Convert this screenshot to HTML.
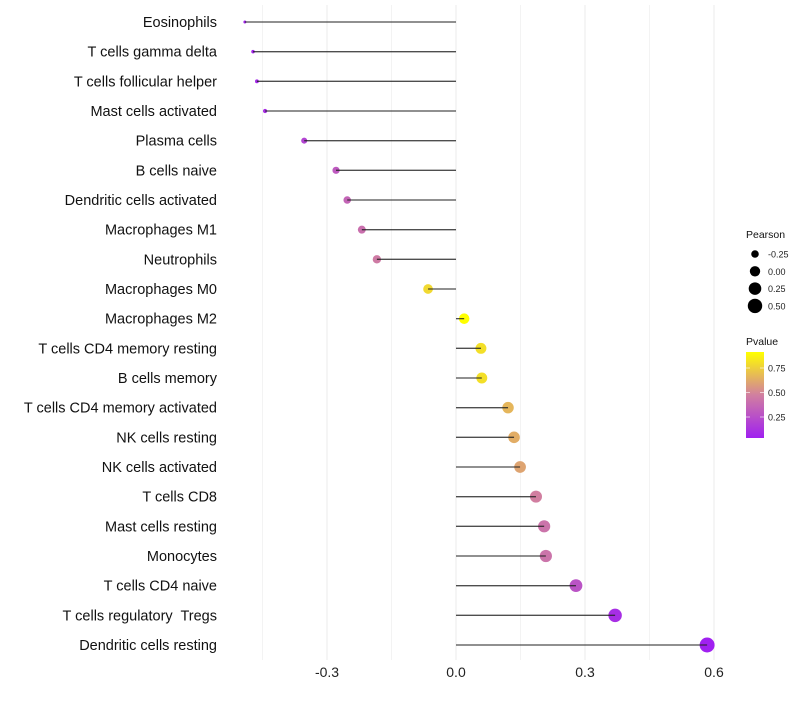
<!DOCTYPE html>
<html><head><meta charset="utf-8"><style>
body{margin:0;background:#fff;font-family:"Liberation Sans",sans-serif}
</style></head><body>
<svg id="c" width="800" height="700" xmlns="http://www.w3.org/2000/svg" font-family="Liberation Sans, sans-serif"></svg>
<script>
const categories=["Eosinophils","T cells gamma delta","T cells follicular helper","Mast cells activated","Plasma cells","B cells naive","Dendritic cells activated","Macrophages M1","Neutrophils","Macrophages M0","Macrophages M2","T cells CD4 memory resting","B cells memory","T cells CD4 memory activated","NK cells resting","NK cells activated","T cells CD8","Mast cells resting","Monocytes","T cells CD4 naive","T cells regulatory  Tregs","Dendritic cells resting"];
const pearson=[-0.491,-0.472,-0.463,-0.444,-0.353,-0.279,-0.253,-0.219,-0.184,-0.065,0.019,0.058,0.060,0.121,0.135,0.149,0.186,0.205,0.209,0.279,0.370,0.584];
const pvalue=[0.05,0.06,0.07,0.1,0.2,0.3,0.35,0.4,0.45,0.78,0.91,0.8,0.8,0.66,0.63,0.6,0.47,0.42,0.42,0.27,0.1,0.035];
const xTicks=[-0.3,0,0.3,0.6];
const xTickLabels=["-0.3","0.0","0.3","0.6"];
const sizeLegend=[-0.25,0,0.25,0.5];
const sizeLegendLabels=["-0.25","0.00","0.25","0.50"];
const pTicks=[0.25,0.5,0.75];
const pTickLabels=["0.25","0.50","0.75"];

const svg=document.getElementById('c');
const NS="http://www.w3.org/2000/svg";
function mk(t,a,p){const e=document.createElementNS(NS,t);for(const k in a)e.setAttribute(k,a[k]);(p||svg).appendChild(e);return e;}
const x=v=>456+v*430;
const y=i=>22+i*(623/21);
const r=v=>Math.sqrt(Math.max(0.5,1.75+50.2*(v+0.5)));
function col(p){const t=Math.max(0,Math.min(1,(p-0.035)/(0.91-0.035)));
 const s=[[160,32,240],[209,127,160],[255,255,0]];
 let a,b,u;if(t<0.5){a=s[0];b=s[1];u=t/0.5}else{a=s[1];b=s[2];u=(t-0.5)/0.5}
 return `rgb(${a.map((c,i)=>Math.round(c+(b[i]-c)*u)).join(',')})`;}

for(let v=-0.45;v<=0.61;v+=0.15){const g=mk('line',{x1:x(v),x2:x(v),y1:5,y2:660,stroke:Math.abs(Math.round(v/0.15))%2==0?'#ebebeb':'#f3f3f3','stroke-width':1});
}
xTicks.forEach((v,i)=>{const t=mk('text',{x:x(v),y:677,'text-anchor':'middle','font-size':14,fill:'#222'});t.textContent=xTickLabels[i];
});
categories.forEach((c,i)=>{
 const l=mk('text',{x:217,y:y(i)+5,'text-anchor':'end','font-size':14.5,fill:'#111'});l.textContent=c;
 l.setAttribute('xml:space','preserve');l.style.whiteSpace='pre';
 
 const d=mk('circle',{cx:x(pearson[i]),cy:y(i),r:r(pearson[i]),fill:col(pvalue[i])});
 
 const s=mk('line',{x1:x(0),x2:x(pearson[i]),y1:y(i),y2:y(i),stroke:'#222','stroke-width':1.3,opacity:0.8});
 
});
const t1=mk('text',{x:746,y:238,'font-size':10.5,fill:'#111'});t1.textContent='Pearson';

sizeLegend.forEach((v,i)=>{const cy=254+i*17.3;
 const c=mk('circle',{cx:755,cy:cy,r:r(v),fill:'#000'});
 const t=mk('text',{x:768,y:cy+3.5,'font-size':9,fill:'#222'});t.textContent=sizeLegendLabels[i];
 });
const t2=mk('text',{x:746,y:345,'font-size':10.5,fill:'#111'});t2.textContent='Pvalue';

const defs=mk('defs',{});const lg=mk('linearGradient',{id:'g',x1:0,y1:1,x2:0,y2:0},defs);
[0,0.5,1].forEach((o,i)=>mk('stop',{offset:o,'stop-color':['#a020f0','#d17fa0','#ffff00'][i]},lg));
const bar=mk('rect',{x:746,y:352,width:18,height:86,fill:'url(#g)'});

pTicks.forEach((p,i)=>{const yy=441.5-p*98;
 mk('line',{x1:746,x2:750,y1:yy,y2:yy,stroke:'#fff','stroke-opacity':0.6});mk('line',{x1:760,x2:764,y1:yy,y2:yy,stroke:'#fff','stroke-opacity':0.6});
 const t=mk('text',{x:768,y:yy+3.5,'font-size':9,fill:'#222'});t.textContent=pTickLabels[i];
 });
</script>
</body></html>
